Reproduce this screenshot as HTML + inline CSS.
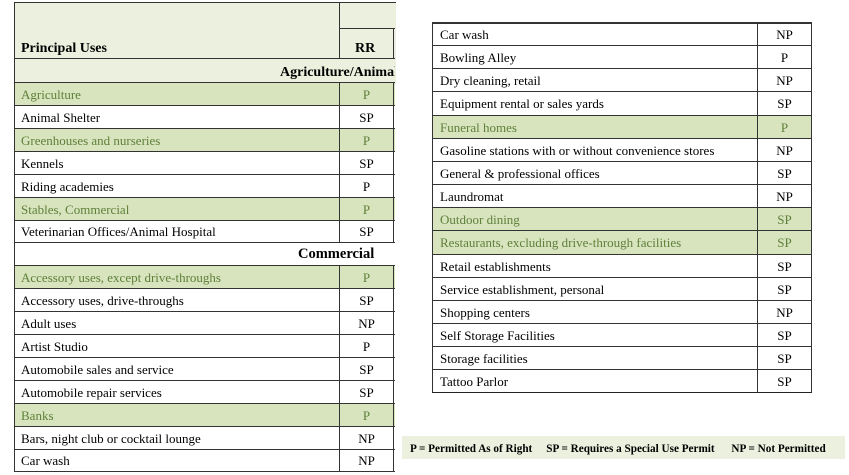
<!DOCTYPE html>
<html><head><style>
body{margin:0;width:849px;height:475px;background:#fff;position:relative;overflow:hidden;font-family:"Liberation Serif",serif;font-size:13px;color:#000}
.r{position:absolute;box-sizing:border-box;border-bottom:1px solid #333}
.t{position:absolute;white-space:nowrap}
.g{background:#d7e4bd;color:#5f7f3a}
</style></head><body>
<div id="L"></div><div id="R"></div>
<div style="position:absolute;left:402px;top:436px;width:443px;height:23px;background:#ebf1de"></div>
<div class="t" style="left:410px;top:443px;font-size:11.2px;font-weight:bold">P = Permitted As of Right&nbsp;&nbsp;&nbsp;&nbsp;&nbsp;SP = Requires a Special Use Permit&nbsp;&nbsp;&nbsp;&nbsp;&nbsp;&nbsp;NP = Not Permitted</div>
<script>
let h='';
h+='<div style="position:absolute;left:14px;top:2px;width:381px;height:81px;background:#ebf1de;border-top:1.5px solid #333;border-left:1.5px solid #333"></div>';
h+='<div style="position:absolute;left:339px;top:2px;width:1px;height:56px;background:#333"></div>';
h+='<div style="position:absolute;left:339px;top:28px;width:56px;height:1px;background:#333"></div>';
h+='<div style="position:absolute;left:393px;top:28px;width:1px;height:30px;background:#333"></div>';
h+='<div style="position:absolute;left:14px;top:58px;width:381px;height:1px;background:#333"></div>';
h+='<div style="position:absolute;left:14px;top:82px;width:381px;height:1px;background:#333"></div>';
h+='<div class="t" style="left:21px;top:41px;font-weight:bold;font-size:14px">Principal Uses</div>';
h+='<div class="t" style="left:355px;top:41px;font-weight:bold;font-size:14px">RR</div>';
h+='<div style="position:absolute;left:200px;top:63px;width:195px;height:20px;overflow:hidden"><div class="t" style="left:80px;top:2px;font-weight:bold;font-size:14px">Agriculture/Animal</div></div>';
const L=[["Agriculture","P",1],["Animal Shelter","SP"],["Greenhouses and nurseries","P",1],["Kennels","SP"],["Riding academies","P"],["Stables, Commercial","P",1],["Veterinarian Offices/Animal Hospital","SP"],["Commercial","",2],["Accessory uses, except drive-throughs","P",1],["Accessory uses, drive-throughs","SP"],["Adult uses","NP"],["Artist Studio","P"],["Automobile sales and service","SP"],["Automobile repair services","SP"],["Banks","P",1],["Bars, night club or cocktail lounge","NP"],["Car wash","NP"]];
L.forEach((d,i)=>{let y=83+i*22.9;
h+=`<div class="r ${d[2]==1?'g':''}" style="left:14px;top:${y}px;width:381px;height:23px;border-left:1.5px solid #333"></div>`;
if(d[2]==2){h+=`<div class="t" style="left:298px;top:${y+3}px;font-weight:bold;font-size:14.5px">${d[0]}</div>`;}
else{h+=`<div style="position:absolute;left:339px;top:${y}px;width:1px;height:23px;background:#333"></div>`;
h+=`<div style="position:absolute;left:393px;top:${y}px;width:1px;height:23px;background:#333"></div>`;
h+=`<div class="t" style="left:21px;top:${y+4}px;${d[2]?'color:#5f7f3a':''}">${d[0]}</div>`;
h+=`<div class="t" style="left:339px;width:55px;text-align:center;top:${y+4}px;${d[2]?'color:#5f7f3a':''}">${d[1]}</div>`;}
});
const R=[["Car wash","NP"],["Bowling Alley","P"],["Dry cleaning, retail","NP"],["Equipment rental or sales yards","SP"],["Funeral homes","P",1],["Gasoline stations with or without convenience stores","NP"],["General &amp; professional offices","SP"],["Laundromat","NP"],["Outdoor dining","SP",1],["Restaurants, excluding drive-through facilities","SP",1],["Retail establishments","SP"],["Service establishment, personal","SP"],["Shopping centers","NP"],["Self Storage Facilities","SP"],["Storage facilities","SP"],["Tattoo Parlor","SP"]];
h+='<div style="position:absolute;left:432px;top:22px;width:380px;height:1.5px;background:#333"></div>';
R.forEach((d,i)=>{let y=23+i*23.15;
h+=`<div class="r ${d[2]?'g':''}" style="left:432px;top:${y}px;width:380px;height:23.2px;border-left:1.5px solid #333;border-right:1px solid #333;${i==15?'border-bottom:1.5px solid #222':''}"></div>`;
h+=`<div style="position:absolute;left:757px;top:${y}px;width:1px;height:23px;background:#333"></div>`;
h+=`<div class="t" style="left:440px;top:${y+4}px;${d[2]?'color:#5f7f3a':''}">${d[0]}</div>`;
h+=`<div class="t" style="left:757px;width:55px;text-align:center;top:${y+4}px;${d[2]?'color:#5f7f3a':''}">${d[1]}</div>`;
});
document.getElementById('L').outerHTML=h;
</script>
</body></html>
